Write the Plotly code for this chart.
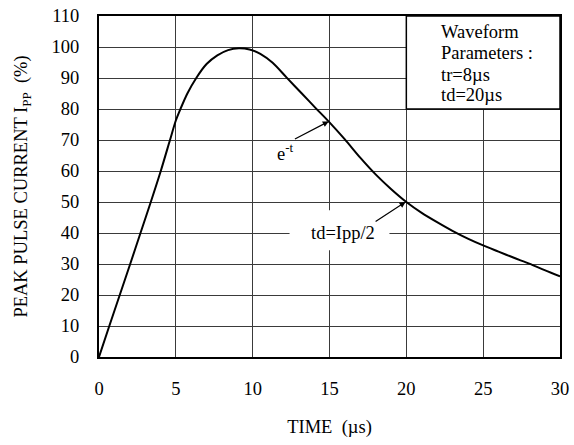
import plotly.graph_objects as go

# Waveform data
time_us = [0, 0.67, 1.35, 2.03, 2.7, 3.37, 4.02, 4.62, 5.0, 5.3, 5.75, 6.33, 7.0, 7.7,
           8.4, 9.1, 9.8, 10.5, 11.3, 12.2, 13.2, 14.1, 15.0, 16.0, 17.0, 18.0, 19.0,
           20.0, 21.0, 22.0, 23.0, 24.0, 25.0, 26.0, 27.0, 28.0, 29.0, 30.0]
ipp_pct = [0, 10, 20, 30, 40, 50, 60, 70, 76.3, 80, 85, 90, 94.5, 97.3,
           99.0, 99.6, 99.2, 97.8, 94.9, 90.2, 85, 80.3, 75.7, 70.2, 64.3, 58.9, 54.2,
           50, 46.5, 43.5, 40.7, 38.2, 36, 34, 32, 30.1, 28, 26]

x_ticks = [0, 5, 10, 15, 20, 25, 30]
y_ticks = [0, 10, 20, 30, 40, 50, 60, 70, 80, 90, 100, 110]
param_lines = ["Waveform", "Parameters :", "tr=8\u00b5s", "td=20\u00b5s"]

FONT = "Liberation Serif"
FS = 18.5

fig = go.Figure()
fig.add_trace(go.Scatter(x=time_us, y=ipp_pct, mode="lines",
                         line=dict(color="black", width=2, shape="spline", smoothing=0.8),
                         hoverinfo="skip", showlegend=False))

grid_color = "#3a3a3a"
fig.update_xaxes(range=[0, 30], tickvals=x_ticks, ticktext=[str(v) for v in x_ticks],
                 showgrid=True, gridcolor=grid_color, gridwidth=1,
                 showline=True, linecolor="black", linewidth=2, mirror=True,
                 zeroline=False, ticks="outside", ticklen=14, tickcolor="rgba(0,0,0,0)",
                 automargin=False, ticklabeloverflow="allow",
                 tickfont=dict(family=FONT, size=FS, color="black"),
                 title=dict(text="TIME\u00a0 (\u00b5s)", font=dict(family=FONT, size=FS, color="black"),
                            standoff=22))
fig.update_yaxes(range=[0, 110], tickvals=y_ticks, ticktext=[str(v) for v in y_ticks],
                 showgrid=True, gridcolor=grid_color, gridwidth=1,
                 showline=True, linecolor="black", linewidth=2, mirror=True,
                 zeroline=False, ticks="outside", ticklen=14, tickcolor="rgba(0,0,0,0)",
                 automargin=False, ticklabeloverflow="allow",
                 tickfont=dict(family=FONT, size=FS, color="black"),
                 title=dict(text="PEAK PULSE CURRENT I<sub>PP</sub>\u00a0 (%)",
                            font=dict(family=FONT, size=FS, color="black"), standoff=19))

# white box behind the parameters text (covers grid)
fig.add_shape(type="rect", xref="x", yref="y", x0=20, x1=30, y0=80, y1=110,
              fillcolor="white", line=dict(color="black", width=1.5), layer="between")
# white patch behind the td label
fig.add_shape(type="rect", xref="x", yref="y", x0=12.4, x1=18.9, y0=34.4, y1=47.3,
              fillcolor="white", line=dict(width=0), layer="between")

for i, s in enumerate(param_lines):
    fig.add_annotation(x=22.1, y=[104.9, 98.2, 91.1, 84.6][i], xref="x", yref="y",
                       text=s, showarrow=False, xanchor="left", yanchor="middle",
                       font=dict(family=FONT, size=FS, color="black"))

# e^-t label with arrow (text box anchored at the arrow tail)
fig.add_annotation(x=14.95, y=76.0, xref="x", yref="y", ax=12.75, ay=70.3,
                   axref="x", ayref="y", text="e<sup>-t</sup>", showarrow=True,
                   xanchor="right", yanchor="top", borderpad=0,
                   arrowhead=2, arrowsize=1, arrowwidth=1.2, arrowcolor="black",
                   font=dict(family=FONT, size=FS, color="black"))

# td label with arrow
fig.add_annotation(x=19.95, y=50.0, xref="x", yref="y", ax=18.0, ay=43.7,
                   axref="x", ayref="y", text="td=Ipp/2", showarrow=True,
                   xanchor="right", yanchor="top", borderpad=0,
                   arrowhead=2, arrowsize=1, arrowwidth=1.2, arrowcolor="black",
                   font=dict(family=FONT, size=FS, color="black"))

fig.update_layout(width=574, height=445, margin=dict(l=99, r=14, t=16, b=88),
                  paper_bgcolor="white", plot_bgcolor="white",
                  font=dict(family=FONT, size=FS, color="black"), showlegend=False)

# remove the default page margin so the figure fills the window exactly
fig.write_html("out.html", config={"displayModeBar": False},
               post_script="document.body.style.margin='0';")
